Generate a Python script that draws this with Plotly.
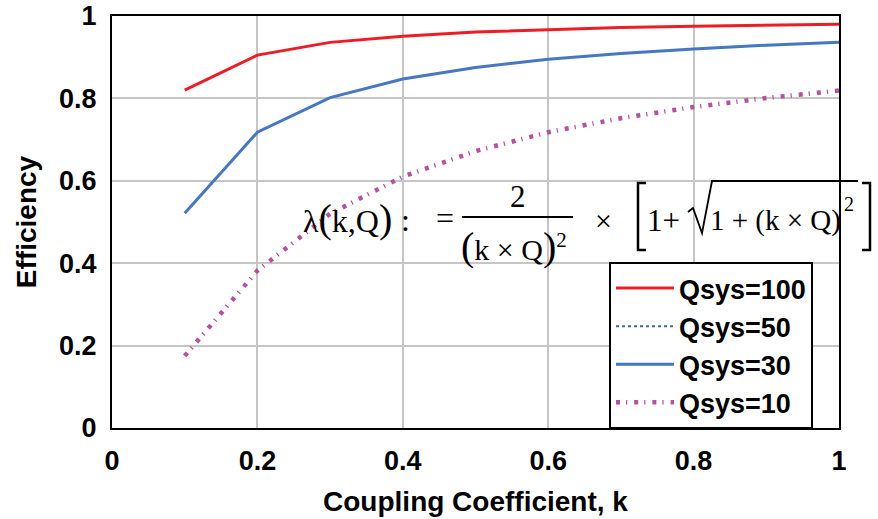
import plotly.graph_objects as go

# ---------------- data ----------------
k_vals = [0.1, 0.2, 0.3, 0.4, 0.5, 0.6, 0.7, 0.8, 0.9, 1.0]
eff_q100 = [0.820, 0.905, 0.936, 0.951, 0.961, 0.967, 0.972, 0.975, 0.978, 0.980]
eff_q30 = [0.521, 0.718, 0.802, 0.847, 0.875, 0.895, 0.909, 0.920, 0.929, 0.936]
eff_q10 = [0.175, 0.382, 0.520, 0.610, 0.672, 0.718, 0.752, 0.779, 0.801, 0.819]
k_q50 = [None]          # Qsys=50 appears only in the legend
eff_q50 = [None]

tick_vals = [0, 0.2, 0.4, 0.6, 0.8, 1.0]
tick_text = ["0", "0.2", "0.4", "0.6", "0.8", "1"]

series_names = ["Qsys=100", "Qsys=50", "Qsys=30", "Qsys=10"]

# ---------------- layout geometry ----------------
W, H = 878, 519
L, R, T, B = 112, 839, 16, 428   # plot area in pixels

def fx(p):
    return (p - L) / (R - L)

def fy(p):
    return (B - p) / (B - T)

SANS = "Arial, Liberation Sans, sans-serif"
SERIF = "Times New Roman, Liberation Serif, serif"

fig = go.Figure()
fig.add_trace(go.Scatter(x=k_vals, y=eff_q100, mode="lines", name=series_names[0],
                         line=dict(color="#ee1c25", width=3)))
fig.add_trace(go.Scatter(x=k_q50, y=eff_q50, mode="lines", name=series_names[1],
                         line=dict(color="#3f63b5", width=2, dash="dot")))
fig.add_trace(go.Scatter(x=k_vals, y=eff_q30, mode="lines", name=series_names[2],
                         line=dict(color="#4677c0", width=3)))
fig.add_trace(go.Scatter(x=k_vals, y=eff_q10, mode="lines", name=series_names[3],
                         line=dict(color="#b4519f", width=4.5, dash="4px,6px,1.2px,7px")))

axis_common = dict(
    range=[0, 1], tickvals=tick_vals, ticktext=tick_text,
    showgrid=True, gridcolor="#c6c6c6", gridwidth=1.5,
    showline=True, linecolor="black", linewidth=2, mirror=True,
    zeroline=False, ticks="",
    tickfont=dict(family=SANS, size=27, color="black", weight="bold"),
    automargin=False,
)

fig.update_layout(
    width=W, height=H,
    margin=dict(l=L, r=W - R, t=T, b=H - B),
    paper_bgcolor="white", plot_bgcolor="white",
    xaxis=dict(**axis_common, ticklabelstandoff=8,
               title=dict(text="Coupling Coefficient, k", standoff=16,
                          font=dict(family=SANS, size=28, color="black", weight="bold"))),
    yaxis=dict(**axis_common, ticklabelstandoff=8,
               title=dict(text="Efficiency", standoff=14,
                          font=dict(family=SANS, size=28, color="black", weight="bold"))),
    legend=dict(x=fx(609), y=fy(262), xanchor="left", yanchor="top",
                bgcolor="white", bordercolor="black", borderwidth=2,
                font=dict(family=SANS, size=27, color="black", weight="bold"),
                tracegroupgap=0, itemwidth=58,
                entrywidth=142, entrywidthmode="pixels"),
    showlegend=True,
)

# ---------------- formula (text annotations + drawn bars/brackets) ----------------
def ann(text, x, y, size, anchor="center"):
    fig.add_annotation(text=text, x=fx(x), y=fy(y), xref="paper", yref="paper",
                       showarrow=False, xanchor=anchor, yanchor="middle",
                       font=dict(family=SERIF, size=size, color="black"))

big = '<span style="font-size:40px">'
ann("λ" + big + "(</span>k,Q" + big + ")</span>", 347, 218, 32)
ann(":", 405, 220, 32)
ann("=", 445, 218, 32)
ann("2", 518, 196, 31)
ann(big + "(</span>k × Q" + big + ")</span><sup>2</sup>", 514, 246, 30)
ann("×", 603, 220, 30)
ann("1+", 663, 220, 31)
ann("1 + (k × Q)", 775, 220, 29)
ann("2", 849, 204, 20)

def path(points):
    return "M " + " L ".join(f"{fx(x):.5f},{fy(y):.5f}" for x, y in points)

def draw(points, width):
    fig.add_shape(type="path", xref="paper", yref="paper", path=path(points),
                  line=dict(color="black", width=width))

draw([(462, 217), (573, 217)], 2.2)                              # fraction bar
draw([(646, 183), (638, 183), (638, 250), (646, 250)], 2.5)      # [
draw([(862, 183), (870, 183), (870, 250), (862, 250)], 2.5)      # ]
draw([(688, 212), (693, 208), (702, 233), (712, 181), (858, 181)], 1.8)  # radical

fig.write_html("out.html", config={"displayModeBar": False},
               post_script="document.body.style.margin='0';")
